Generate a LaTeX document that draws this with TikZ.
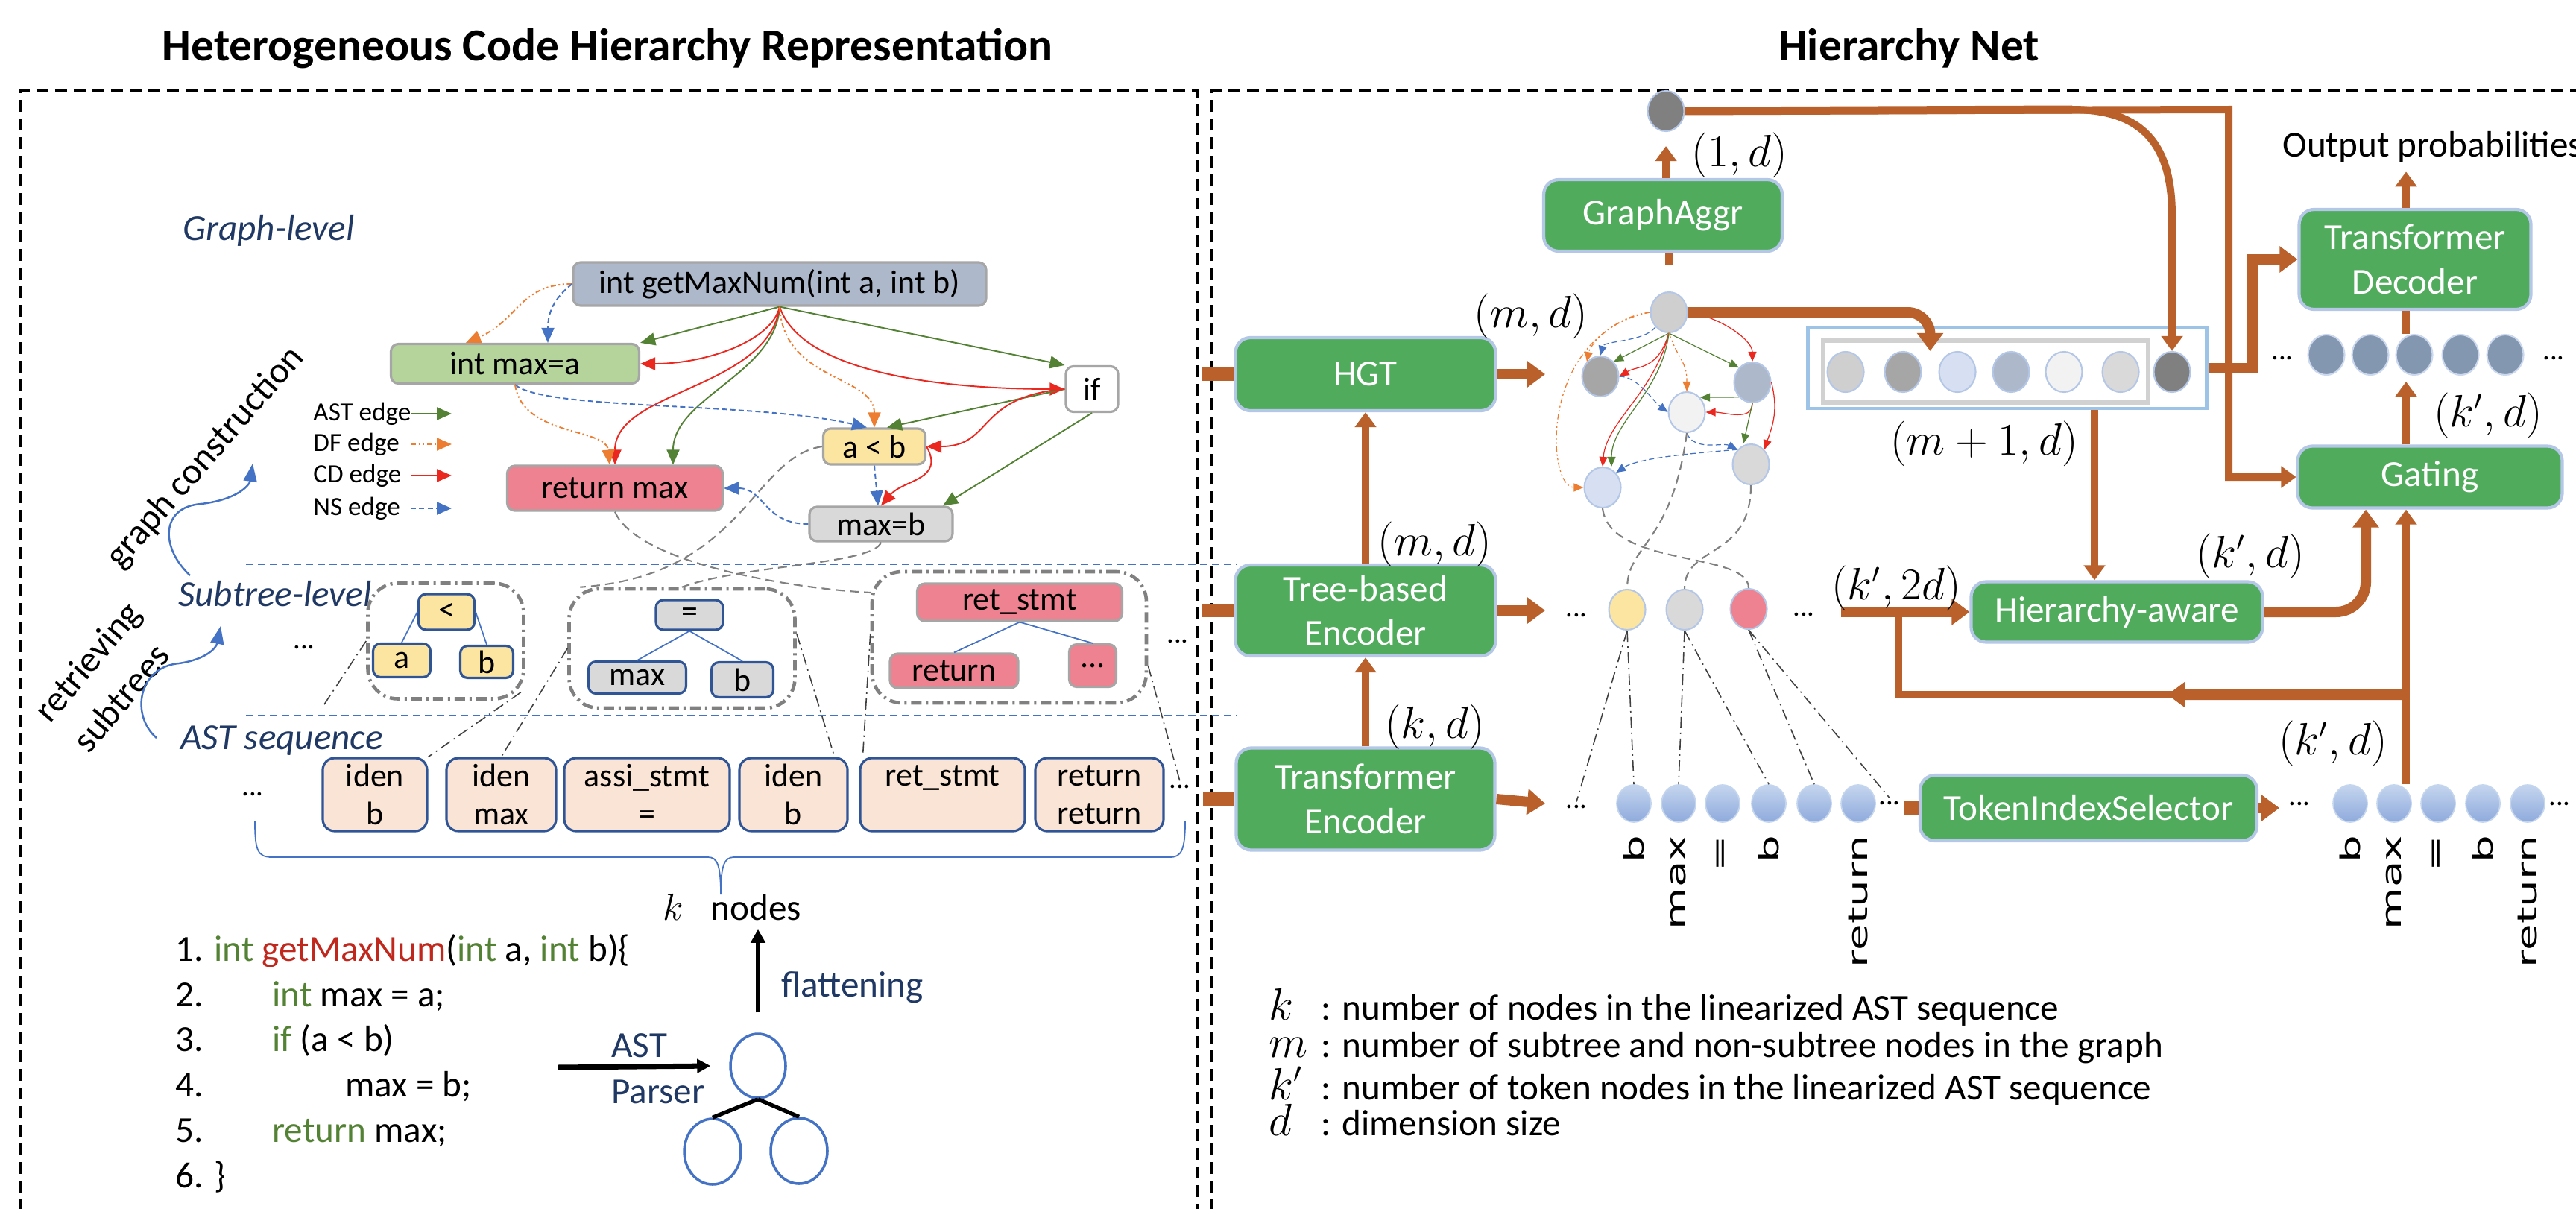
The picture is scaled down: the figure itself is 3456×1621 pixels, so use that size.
\documentclass[tikz,border=0pt]{standalone}
\usepackage{fontspec}
\setmainfont{Carlito}
\newfontfamily\tokfont{DejaVu Sans}
\usetikzlibrary{arrows.meta,shapes.geometric,calc}

\definecolor{navy}{RGB}{31,56,100}
\definecolor{rust}{RGB}{186,96,42}
\definecolor{blockgreen}{RGB}{80,172,92}
\definecolor{blockrim}{RGB}{180,199,231}
\definecolor{astgreen}{RGB}{84,130,53}
\definecolor{dforange}{RGB}{237,125,49}
\definecolor{cdred}{RGB}{234,40,32}
\definecolor{nsblue}{RGB}{68,114,196}
\definecolor{rootgray}{RGB}{173,185,202}
\definecolor{declgreen}{RGB}{180,212,156}
\definecolor{condyellow}{RGB}{251,229,160}
\definecolor{retpink}{RGB}{238,130,144}
\definecolor{assigngray}{RGB}{217,217,217}
\definecolor{peach}{RGB}{250,228,214}
\definecolor{seqrim}{RGB}{47,85,151}
\definecolor{codered}{RGB}{192,40,30}
\definecolor{tokblue}{RGB}{132,151,176}
\definecolor{embtop}{RGB}{196,213,238}
\definecolor{embbot}{RGB}{143,170,220}
\definecolor{arrayrim}{RGB}{157,195,230}

\newcommand{\kwd}[1]{\textcolor{astgreen}{#1}}
\newcommand{\fnc}[1]{\textcolor{codered}{#1}}

\tikzset{
  title/.style={anchor=base,font=\bfseries\fontsize{17.5}{21}\selectfont},
  frame/.style={line width=1pt,dash pattern=on 1.6mm off .9mm},
  level/.style={anchor=base west,text=navy,font=\itshape\fontsize{14}{17}\selectfont},
  sep/.style={nsblue,line width=.6pt,dash pattern=on 1mm off .6mm},
  gnode/.style={draw=gray!70,line width=.9pt,rounded corners=1mm,inner sep=0pt,font=\fontsize{12.5}{15}\selectfont},
  snode/.style={draw=seqrim,line width=.9pt,rounded corners=1mm,inner sep=0pt,font=\fontsize{12.5}{15}\selectfont},
  tok/.style={draw=seqrim,line width=.9pt,fill=peach,rounded corners=1.6mm,inner sep=0pt,align=center,
    minimum height=9.8mm,font=\fontsize{12.5}{14.5}\selectfont},
  blob/.style={draw=gray,line width=1.3pt,dash pattern=on 1.4mm off .6mm on .3mm off .6mm,rounded corners=4mm,inner sep=0pt},
  edge/.style={line width=.55pt,-{Triangle[length=2mm,width=1.7mm]}},
  ast/.style={edge,astgreen},
  df/.style={edge,dforange,dash pattern=on 2pt off 1pt on .6pt off 1pt on .6pt off 1pt},
  cd/.style={edge,cdred},
  ns/.style={edge,nsblue,dash pattern=on 2pt off 1.2pt},
  mini/.style={line width=.35pt,-{Triangle[length=1.3mm,width=1.1mm]}},
  legtext/.style={anchor=west,font=\fontsize{10}{12}\selectfont},
  twig/.style={nsblue,line width=.5pt},
  glink/.style={gray,line width=.6pt,dash pattern=on 1.2mm off .7mm},
  map/.style={black!75,line width=.45pt,dash pattern=on 1.5mm off .6mm on .2mm off .6mm},
  sweep/.style={nsblue,line width=.7pt,-{Triangle[length=2.4mm,width=1.8mm]}},
  code/.style={anchor=base west,font=\fontsize{14}{17}\selectfont},
  note/.style={font=\fontsize{14}{17}\selectfont},
  blk/.style={fill=blockgreen,draw=blockrim,line width=1.2pt,rounded corners=2mm,text=white,align=center,
    inner sep=0pt,font=\fontsize{14}{17}\selectfont},
  vec/.style={ellipse,draw=blockrim,line width=.6pt,minimum width=4.9mm,minimum height=5.4mm,inner sep=0pt},
  emb/.style={ellipse,draw=embtop,line width=.5pt,top color=embtop,bottom color=embbot,
    minimum width=4.6mm,minimum height=5mm,inner sep=0pt},
  tokname/.style={rotate=90,anchor=east,inner sep=0pt,xscale=1.6,font=\tokfont\fontsize{10.3}{11}\selectfont},
  dim/.style={font=\fontsize{16}{19}\selectfont},
  dots/.style={font=\fontsize{11}{13}\selectfont,inner sep=1pt},
  flow/.style={rust,line width=1.4mm,-{Triangle[length=2.4mm,width=3.4mm]}},
  feed/.style={rust,line width=1mm},
  feedarrow/.style={feed,-{Triangle[length=2mm,width=2.8mm]}},
  stub/.style={rust,line width=1.8mm}
}

\begin{document}
\begin{tikzpicture}[x=0.1mm,y=-0.1mm]
  \useasboundingbox (0,0) rectangle (3456,1621);
  \clip (0,0) rectangle (3456,1621);

  % titles and panels
  \node[title] (ltitle) at (815,82) {Heterogeneous Code Hierarchy Representation};
  \node[title] (rtitle) at (2561,82) {Hierarchy Net};
  \draw[frame] (27,1700) -- (27,122) -- (1606,122) -- (1606,1700);
  \draw[frame] (1626,1700) -- (1626,122) -- (3520,122);

  % ---------------- left panel ----------------
  \node[level] (glevel) at (233,322) {Graph-level};
  \node[level] (slevel) at (227,813) {Subtree-level};
  \node[level] (qlevel) at (230,1005) {AST sequence};
  \draw[sep] (330,757) -- (1660,757);
  \draw[sep] (330,960) -- (1660,960);

  \node[note,rotate=49] (gcons) at (276,614) {graph construction};
  \node[note,rotate=50] (rtv) at (120,890) {retrieving};
  \node[note,rotate=50] (sbt) at (162,936) {subtrees};
  \draw[sweep] (255,772) .. controls (215,735) and (215,680) .. (270,676)
    .. controls (320,670) and (335,650) .. (339,622);
  \draw[sweep] (210,990) .. controls (175,960) and (185,895) .. (240,890)
    .. controls (275,885) and (290,870) .. (296,840);

  % graph level
  \node[gnode,fill=rootgray,minimum width=55.4mm,minimum height=5.8mm] (root) at (1046,381) {int getMaxNum(int a, int b)};
  \node[gnode,fill=declgreen,minimum width=33.3mm,minimum height=5.3mm] (decl) at (691,488) {int max=a};
  \node[gnode,fill=white,minimum width=7mm,minimum height=6.1mm] (ifs) at (1465,522) {if};
  \node[gnode,fill=condyellow,minimum width=13.7mm,minimum height=4.8mm] (cond) at (1173,599) {a < b};
  \node[gnode,fill=retpink,minimum width=28.9mm,minimum height=6mm] (ret) at (825,655) {return max};
  \node[gnode,fill=assigngray,minimum width=19.2mm,minimum height=4.6mm] (asg) at (1182,703) {max=b};

  \draw[ast] (root.south) -- (decl.north east);
  \draw[ast] (root.south) -- (ifs.north west);
  \draw[ast] (root.south) .. controls +(-5,90) and +(0,-90) .. ([xshift=7.8mm]ret.north);
  \draw[cd] (root.south) .. controls +(-10,45) and +(90,0) .. (decl.east);
  \draw[cd] (root.south) .. controls +(-15,110) and +(0,-100) .. (ret.north);
  \draw[cd] (root.south) .. controls +(30,90) and +(-160,0) .. (ifs.west);
  \draw[df] (root.south) .. controls +(5,100) and +(0,-70) .. (cond.north);
  \draw[df] (root.west) .. controls +(-70,0) and +(70,-30) .. ([xshift=-6.6mm]decl.north);
  \draw[ns] (root.west) .. controls +(-25,20) and +(0,-40) .. ([xshift=4.4mm]decl.north);
  \draw[ns] (decl.south) .. controls +(40,35) and +(-150,-35) .. ([xshift=-1mm]cond.north);
  \draw[df] (decl.south) .. controls +(10,70) and +(-5,-50) .. ([xshift=-.7mm]ret.north);
  \draw[ast] (ifs.west) -- ([xshift=1.7mm]cond.north);
  \draw[cd] (ifs.west) .. controls +(-120,10) and +(90,0) .. (cond.east);
  \draw[ast] (ifs.south) -- ([xshift=8.3mm]asg.north);
  \draw[cd] (cond.east) .. controls +(25,45) and +(30,-35) .. (asg.north);
  \draw[ns] (cond.south) -- ([xshift=-.4mm]asg.north);
  \draw[ns] (asg.west) .. controls +(-60,0) and +(55,0) .. (ret.east);

  % legend
  \foreach \sty/\txt/\yy [count=\i] in {ast/AST edge/555,df/DF edge/596,cd/CD edge/638,ns/NS edge/682}{
    \node[legtext] (leg\i) at (408,\yy) {\txt};
    \draw[\sty] (551,\yy) -- (606,\yy);
  }

  % subtree level
  \node[blob,minimum width=20.9mm,minimum height=15.5mm] (grp1) at (598,860) {};
  \node[blob,minimum width=30.3mm,minimum height=16mm] (grp2) at (915,870) {};
  \node[blob,minimum width=36.8mm,minimum height=17.6mm] (grp3) at (1354,855) {};
  \node[snode,fill=condyellow,minimum width=7.5mm,minimum height=4.8mm] (lt) at (599,821) {<};
  \node[snode,fill=condyellow,minimum width=7.7mm,minimum height=4.5mm] (la) at (539,886) {a};
  \node[snode,fill=condyellow,minimum width=7.1mm,minimum height=4.3mm] (lb) at (653,888) {b};
  \node[snode,fill=assigngray,minimum width=9mm,minimum height=4mm] (eq) at (925,825) {=};
  \node[snode,fill=assigngray,minimum width=13.1mm,minimum height=4.3mm] (emax) at (855,909) {max};
  \node[snode,fill=assigngray,minimum width=8.3mm,minimum height=4.7mm] (eb) at (996,912) {b};
  \node[gnode,fill=retpink,minimum width=27.5mm,minimum height=5mm] (rs) at (1368,808) {ret\_stmt};
  \node[gnode,fill=retpink,minimum width=17.2mm,minimum height=4.6mm] (rret) at (1280,900) {return};
  \node[gnode,fill=retpink,minimum width=6.3mm,minimum height=5.7mm] (rdots) at (1466,893) {...};
  \draw[twig] (lt.west) -- (la.north);
  \draw[twig] (lt.east) -- (lb.north);
  \draw[twig] (eq.south) -- (emax.north);
  \draw[twig] (eq.south) -- (eb.north);
  \draw[twig] (rs.south) -- (rret.north);
  \draw[twig] (rs.south) -- (rdots.north);
  \node[dots] (sdots1) at (408,868) {...};
  \node[dots] (sdots2) at (1580,860) {...};

  \draw[glink] (ret.south) .. controls +(30,70) and +(-100,-5) .. ([yshift=6mm]grp3.west);
  \draw[glink] (cond.west) .. controls +(-95,15) and +(220,-15) .. ([xshift=1.7mm]grp2.north west);
  \draw[glink] (asg.south) .. controls +(-10,30) and +(80,-30) .. (grp2.north);

  % AST sequence
  \foreach \nm/\cx/\bw/\txt in {tk1/503/14/{iden\\b},tk2/672.5/14.7/{iden\\max},tk3/868/22.2/{assi\_stmt\\=},
      tk4/1064.5/14.5/{iden\\b},tk5/1264.5/22.1/{ret\_stmt\\~},tk6/1475/17.2/{return\\return}}
    \node[tok,minimum width=\bw mm] (\nm) at (\cx,1066) {\txt};
  \node[dots] (qdots1) at (339,1065) {...};
  \node[dots] (qdots2) at (1583,1055) {...};
  \coordinate (lost) at (433,948);
  \draw[map] (grp1.west) -- (lost);
  \draw[map] ([xshift=-.6mm,yshift=1.1mm]grp1.south east) -- (tk1.north east);
  \draw[map] (grp2.west) -- (tk2.north);
  \draw[map] ([yshift=2mm]grp2.east) -- ([xshift=-1.9mm]tk4.north east);
  \draw[map] ([yshift=.5mm]grp3.west) -- ([xshift=.5mm]tk5.north west);
  \draw[map] ([yshift=-3.8mm]grp3.east) -- (qdots2.north);

  \draw[nsblue,line width=.5pt] (342,1101) .. controls (342,1140) and (345,1150) .. (365,1150) -- (950,1150)
    .. controls (962,1150) and (967,1160) .. (967,1200) .. controls (967,1160) and (972,1150) .. (985,1150)
    -- (1570,1150) .. controls (1585,1150) and (1590,1140) .. (1590,1102);
  \node[note,anchor=base] (knodes) at (982,1234) {$k$\hspace{.75em}nodes};

  % code and parser
  \node[code] (c1) at (223,1289) {1. \kwd{int} \fnc{getMaxNum}(\kwd{int} a, \kwd{int} b)\{};
  \foreach \i/\yy in {2/1350,3/1410,4/1471,5/1532}
    \node[code] (num\i) at (223,\yy) {\i.};
  \node[code] (c2) at (353,1350) {\kwd{int} max = a;};
  \node[code] (c3) at (353,1410) {\kwd{if} (a < b)};
  \node[code] (c4) at (451,1471) {max = b;};
  \node[code] (c5) at (353,1532) {\kwd{return} max;};
  \node[code] (c6) at (223,1593) {6. \}};

  \node[ellipse,draw=nsblue,line width=1pt,minimum width=7.4mm,minimum height=8.6mm] (troot) at (1017,1430) {};
  \node[ellipse,draw=nsblue,line width=1pt,minimum width=7.6mm,minimum height=8.8mm] (tleft) at (956,1545) {};
  \node[ellipse,draw=nsblue,line width=1pt,minimum width=7.6mm,minimum height=8.8mm] (tright) at (1072,1544) {};
  \draw[line width=1.5pt] (troot.south) -- (tleft.north);
  \draw[line width=1.5pt] (troot.south) -- (tright.north);
  \coordinate (parsein) at (749,1432);
  \draw[line width=2pt,-{Triangle[length=1.8mm,width=1.8mm]}] (parsein) -- ([xshift=-2.5mm]troot.west);
  \node[note,anchor=base west,text=navy] (astlbl) at (808,1418) {AST};
  \node[note,anchor=base west,text=navy] (parser) at (808,1480) {Parser};
  \draw[line width=1.7pt,-{Triangle[length=1.8mm,width=1.9mm]},shorten <=2.7mm] (troot.north) -- (troot.north |- knodes.south);
  \node[note,anchor=west,text=navy] (flat) at (1036,1325) {flattening};

  % ---------------- right panel ----------------
  \node[blk,minimum width=32mm,minimum height=9.6mm] (gaggr) at (2231,289) {GraphAggr};
  \node[blk,minimum width=34.9mm,minimum height=9.8mm] (hgt) at (1832,502) {HGT};
  \node[blk,minimum width=34.9mm,minimum height=12.2mm] (tenc) at (1832,819) {Tree-based\\Encoder};
  \node[blk,minimum width=34.7mm,minimum height=13.7mm] (xenc) at (1832,1072) {Transformer\\Encoder};
  \node[blk,minimum width=45.2mm,minimum height=8.8mm] (tis) at (2802,1084) {TokenIndexSelector};
  \node[blk,minimum width=39.1mm,minimum height=8.1mm] (hawa) at (2840,821) {Hierarchy-aware};
  \node[blk,minimum width=35.5mm,minimum height=8.3mm] (gate) at (3260,640) {Gating};
  \node[blk,minimum width=31.1mm,minimum height=13.4mm] (tdec) at (3240,348) {Transformer\\Decoder};

  % graph embedding
  \node[vec,fill=gray] (gvec) at (2235,149) {};
  \node[vec,fill=black!19] (mtop) at (2239,419) {};
  \node[vec,fill=black!35] (mleft) at (2147,505) {};
  \node[vec,fill=rootgray] (mright) at (2351,513) {};
  \node[vec,fill=black!5] (mmid) at (2263,553) {};
  \node[vec,fill=blockrim!55] (mbl) at (2150,654) {};
  \node[vec,fill=assigngray] (mbr) at (2349,623) {};
  \draw[df,mini] (mtop.west) .. controls +(-45,5) and +(5,-25) .. (mleft.north west);
  \draw[df,mini] (mtop.west) .. controls +(-150,30) and +(-50,0) .. (mbl.west);
  \draw[ns,mini] (mtop.south west) .. controls +(-15,20) and +(5,-20) .. (mleft.north);
  \draw[ast,mini] (mtop.south) -- (mleft.north east);
  \draw[cd,mini] (mtop.south) .. controls +(-15,50) and +(25,-15) .. (mleft.east);
  \draw[cd,mini] (mtop.south) .. controls +(-20,80) and +(5,-60) .. (mbl.north);
  \draw[ast,mini] (mtop.south) .. controls +(-10,80) and +(0,-60) .. ([xshift=1.2mm]mbl.north);
  \draw[ast,mini] (mtop.south) -- (mright.north west);
  \draw[cd,mini] (mtop.east) .. controls +(40,5) and +(0,-30) .. (mright.north);
  \draw[df,mini] (mtop.south) .. controls +(15,40) and +(0,-40) .. (mmid.north);
  \draw[ns,mini] (mleft.east) .. controls +(25,0) and +(-20,-15) .. (mmid.west);
  \draw[ast,mini] (mright.south west) -- (mmid.north east);
  \draw[cd,mini] (mright.south) .. controls +(0,25) and +(25,0) .. (mmid.east);
  \draw[cd,mini] (mright.east) .. controls +(10,40) and +(10,-30) .. (mbr.north east);
  \draw[ast,mini] (mright.south) -- ([xshift=-1mm]mbr.north);
  \draw[ns,mini] (mmid.south) .. controls +(10,25) and +(-20,-10) .. (mbr.north west);
  \draw[ns,mini] (mbr.north west) .. controls +(-60,5) and +(30,-20) .. (mbl.north east);

  % subtree embeddings
  \node[vec,fill=condyellow] (syel) at (2183,818) {};
  \node[vec,fill=assigngray] (sgray) at (2260,818) {};
  \node[vec,fill=retpink] (spink) at (2346,817) {};
  \node[dots] (tdots1) at (2115,825) {...};
  \node[dots] (tdots2) at (2420,824) {...};
  \draw[glink] (mbl.south) .. controls +(10,80) and +(0,-50) .. (spink.north);
  \draw[glink] (mmid.south) .. controls +(-20,150) and +(0,-60) .. (syel.north);
  \draw[glink] (mbr.south) .. controls +(0,100) and +(0,-60) .. (sgray.north);

  % token embeddings
  \foreach \i/\cx in {1/2192,2/2252,3/2311,4/2373,5/2434,6/2493}
    \node[emb] (e\i) at (\cx,1078) {};
  \foreach \i/\cx in {1/3153,2/3212,3/3271,4/3331,5/3391}
    \node[emb] (f\i) at (\cx,1078) {};
  \foreach \i/\cx in {1/3121,2/3180,3/3239,4/3301,5/3361}
    \node[vec,fill=tokblue,draw=blockrim!70] (o\i) at (\cx,476) {};
  \node[dots] (edl) at (2115,1082) {...};
  \node[dots] (edr) at (2535,1077) {...};
  \node[dots] (fdl) at (3085,1078) {...};
  \node[dots] (fdr) at (3434,1078) {...};
  \node[dots] (odl) at (3062,480) {...};
  \node[dots] (odr) at (3426,480) {...};
  \foreach \i/\w in {1/b,2/max,3/=,4/b,6/return}
    \node[tokname] (le\i) at ([yshift=-1.6mm]e\i.south) {\w};
  \foreach \i/\w in {1/b,2/max,3/=,4/b,5/return}
    \node[tokname] (lf\i) at ([yshift=-1.6mm]f\i.south) {\w};
  \draw[map] (syel.south) -- (edl.north);
  \draw[map] (syel.south) -- (e1.north);
  \draw[map] (sgray.south) -- (e2.north);
  \draw[map] (sgray.south) -- (e4.north);
  \draw[map] (spink.south) -- (e5.north);
  \draw[map] (spink.south) -- (edr.north);

  % array of graph nodes
  \node[draw=arrayrim,line width=1.2pt,minimum width=53.5mm,minimum height=10.8mm] (arrbox) at (2693,494) {};
  \node[draw=black!18,line width=1.8pt,minimum width=43.6mm,minimum height=8.3mm] (arrin) at (2664,498) {};
  \foreach \i/\cx/\col in {1/2476/black!19,2/2553/black!35,3/2626/blockrim!55,4/2698/rootgray,5/2769/black!5,6/2845/assigngray,7/2914/gray}
    \node[vec,fill=\col] (arr\i) at (\cx,499) {};

  % feeds into the network
  \foreach \b in {hgt,tenc,xenc}
    \draw[stub] ([xshift=-4.2mm]\b.west) -- (\b.west);
  \coordinate (hgtout) at (2073,502);
  \coordinate (tencout) at (2073,819);
  \coordinate (xencout) at (2073,1078);
  \draw[flow] (hgt.east) -- (hgtout);
  \draw[flow] (tenc.east) -- (tencout);
  \draw[flow] (xenc.east) -- (xencout);
  \draw[feedarrow] (xenc.north) -- (tenc.south);
  \draw[feedarrow] (tenc.north) -- (hgt.south);
  \draw[feed,shorten <=3.6mm] (mtop.north) -- (mtop.north |- gaggr.south);
  \draw[feedarrow,shorten >=1.9mm] (gvec.south |- gaggr.north) -- (gvec.south);
  \draw[flow,rounded corners=3mm] (mtop.east) -| ($(arr2.north)!.5!(arr3.north)$);

  \coordinate (tap) at (2990,147);
  \coordinate (bend) at (2780,147);
  \draw[feedarrow] (gvec.east) -- (tap) -- (tap |- gate.west) -- (gate.west);
  \draw[rust,line width=1.1mm] (gvec.east) -- (bend);
  \draw[feedarrow] (bend) .. controls (2880,147) and (2914,200) .. (2914,290) -- (arr7.north);

  \coordinate (jn) at ([xshift=5.9mm]arrbox.east);
  \draw[flow] (arrbox.east) -- (jn) |- (tdec.west);
  \draw[feedarrow] ([xshift=-3mm]hawa.north |- arrbox.south) -- ([xshift=-3mm]hawa.north);

  \coordinate (spine) at (3228,0);
  \node[note,anchor=base west] (outp) at (3050,210) {Output probabilities};
  \draw[feedarrow] (tdec.north -| spine) -- (spine |- outp.south);
  \draw[feed] (spine |- o3.north) -- (tdec.south -| spine);
  \draw[feedarrow,shorten >=.8mm] (gate.north -| spine) -- (spine |- o3.south);

  \draw[stub] ([xshift=-2mm]tis.west) -- (tis.west);
  \coordinate (tisout) at (3058,1084);
  \draw[flow] (tis.east) -- (tisout);

  \coordinate (hin) at (2470,821);
  \coordinate (loopr) at (3228,932);
  \coordinate (loopl) at (2547,932);
  \draw[flow] (hin) -- (hawa.west);
  \draw[feedarrow] (spine |- f2.north) -- (spine |- gate.south);
  \draw[feed] (loopr) -- (loopl) -- (loopl |- hawa.west);
  \draw[flow] (loopr) -- ($(loopr)!.47!(loopl)$);
  \draw[flow,rounded corners=4mm] (hawa.east) -| ([xshift=-8.6mm]gate.south);

  % dimensions
  \node[dim] (d1) at (2334,208) {$(1,d)$};
  \node[dim] (d2) at (2054,424) {$(m,d)$};
  \node[dim] (d3) at (1925,730) {$(m,d)$};
  \node[dim] (d4) at (1925,975) {$(k,d)$};
  \node[dim] (d5) at (2662,595) {$(m+1,d)$};
  \node[dim] (d6) at (2544,789) {$(k',2d)$};
  \node[dim] (d7) at (3019,746) {$(k',d)$};
  \node[dim] (d8) at (3130,997) {$(k',d)$};
  \node[dim] (d9) at (3338,557) {$(k',d)$};

  % symbols
  \foreach \sym/\txt/\yy [count=\i] in {k/number of nodes in the linearized AST sequence/1368,
      m/number of subtree and non-subtree nodes in the graph/1418,
      k'/number of token nodes in the linearized AST sequence/1475,
      d/dimension size/1523}{
    \node[dim,anchor=base west] (sym\i) at (1690,\yy) {$\sym$};
    \node[note,anchor=base west] (def\i) at (1760,\yy) {: \txt};
  }
\end{tikzpicture}
\end{document}
